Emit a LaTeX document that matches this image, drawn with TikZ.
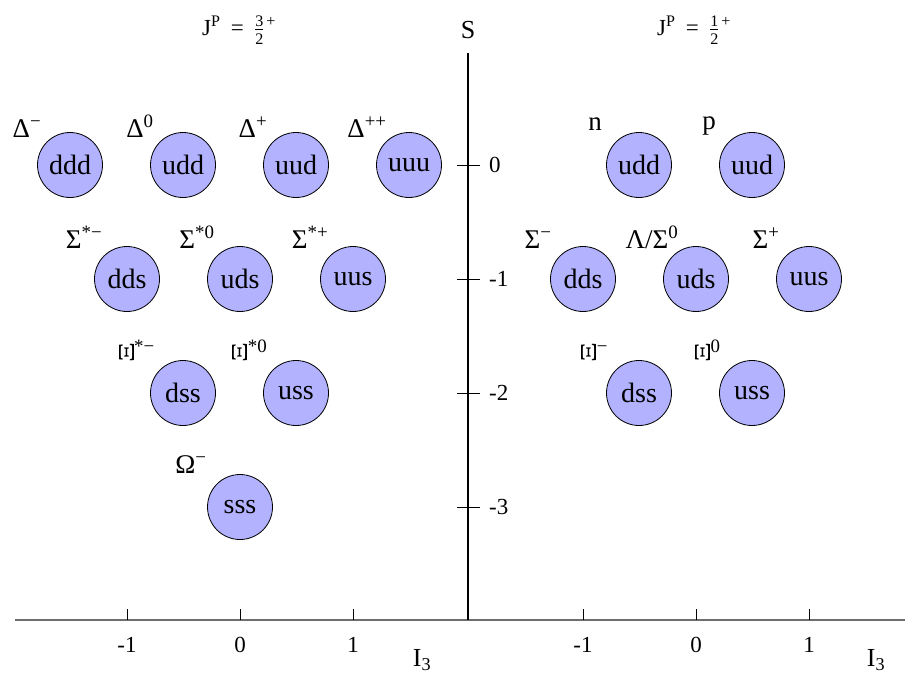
\documentclass[tikz,border=0pt]{standalone}
\usepackage{fontspec}
\setmainfont{Liberation Serif}
\usepackage{amsmath}
\usepackage{graphicx}
\newcommand\sps[1]{\textsuperscript{#1}}
\newcommand\rXi{\resizebox{15pt}{20pt}{\rotatebox{90}{Ξ}}}
\begin{document}
\begin{tikzpicture}[x=1pt,y=-1pt,
  baryon/.style={circle,draw=black,line width=0.8pt,fill={rgb,255:red,178;green,178;blue,255},minimum size=65pt,inner sep=0pt,font=\fontsize{28}{32}\selectfont},
  plabel/.style={anchor=base,inner sep=0pt,font=\fontsize{27}{31}\selectfont},
  ticklab/.style={inner sep=0pt,font=\fontsize{23}{27}\selectfont},
  axlab/.style={inner sep=0pt,font=\fontsize{26}{30}\selectfont},
  jplab/.style={inner sep=0pt,font=\fontsize{23}{27}\selectfont},
  haxis/.style={draw={rgb,255:red,110;green,110;blue,110},line width=2pt},
  vaxis/.style={draw=black,line width=1.2pt},
  tickline/.style={draw=black,line width=1pt}]
\useasboundingbox (0,0) rectangle (905,680);
% axes
\coordinate (hL) at (15,620);
\coordinate (hR) at (905,620);
\coordinate (vT) at (468,53);
\coordinate (vB) at (468,620);
\draw[haxis] (hL) -- (hR);
\draw[vaxis] (vT) -- (vB);
% horizontal ticks
\foreach \x/\t [count=\i] in {127/-1,240/0,353/1,583/-1,696/0,809/1}{
  \coordinate (ht\i) at (\x,620);
  \coordinate (hu\i) at (\x,609);
  \draw[tickline] (ht\i) -- (hu\i);
  \node[ticklab] (hl\i) at (\x,645) {\t};
}
% vertical ticks
\foreach \y/\t [count=\i] in {165/0,279/-1,393/-2,507/-3}{
  \coordinate (vl\i) at (457,\y);
  \coordinate (vr\i) at (480,\y);
  \draw[tickline] (vl\i) -- (vr\i);
  \node[ticklab,anchor=west] (vt\i) at (489,\y) {\t};
}
% axis labels
\node[axlab] (Slab) at (468,30) {S};
\node[axlab] (I3L) at (422,660) {I\textsubscript{3}};
\node[axlab] (I3R) at (876,660) {I\textsubscript{3}};
\node[jplab] (jpL) at (239,30) {J\sps{P}\hspace{0.45em}=\hspace{0.45em}$\frac{\text{3}}{\text{2}}$\sps{\hspace{0.1em}+}};
\node[jplab] (jpR) at (694,30) {J\sps{P}\hspace{0.45em}=\hspace{0.45em}$\frac{\text{1}}{\text{2}}$\sps{\hspace{0.1em}+}};
% decuplet
\node[baryon] (ddd) at (70,165) {ddd};
\node[baryon] (udd) at (183,165) {udd};
\node[baryon] (uud) at (296,165) {uud};
\node[baryon] (uuu) at (409,165) {uuu};
\node[baryon] (dds) at (127,279) {dds};
\node[baryon] (uds) at (240,279) {uds};
\node[baryon] (uus) at (353,279) {uus};
\node[baryon] (dss) at (183,393) {dss};
\node[baryon] (uss) at (296,393) {uss};
\node[baryon] (sss) at (240,507) {sss};
\node[plabel] (lDm) at (27,137) {Δ\sps{−}};
\node[plabel] (lD0) at (140,137) {Δ\sps{0}};
\node[plabel] (lDp) at (253,137) {Δ\sps{+}};
\node[plabel] (lDpp) at (367,137) {Δ\sps{++}};
\node[plabel] (lSm) at (84,248) {Σ\sps{*−}};
\node[plabel] (lS0) at (197,248) {Σ\sps{*0}};
\node[plabel] (lSp) at (310,248) {Σ\sps{*+}};
\node[plabel] (lXm) at (137,362) {\rXi\sps{*−}};
\node[plabel] (lX0) at (250,362) {\rXi\sps{*0}};
\node[plabel] (lOm) at (191,473) {Ω\sps{−}};
% octet
\node[baryon] (n) at (639,165) {udd};
\node[baryon] (p) at (752,165) {uud};
\node[baryon] (Sm) at (583,279) {dds};
\node[baryon] (L) at (696,279) {uds};
\node[baryon] (Sp) at (809,279) {uus};
\node[baryon] (Xm) at (639,393) {dss};
\node[baryon] (X0) at (752,393) {uss};
\node[plabel] (ln) at (595,130) {n};
\node[plabel] (lp) at (709,129) {p};
\node[plabel] (lSmo) at (538,248) {Σ\sps{−}};
\node[plabel] (lL) at (652,248) {Λ/Σ\sps{0}};
\node[plabel] (lSpo) at (766,248) {Σ\sps{+}};
\node[plabel] (lXmo) at (595,362) {\rXi\sps{−}};
\node[plabel] (lX0o) at (708,362) {\rXi\sps{0}};
\end{tikzpicture}
\end{document}
